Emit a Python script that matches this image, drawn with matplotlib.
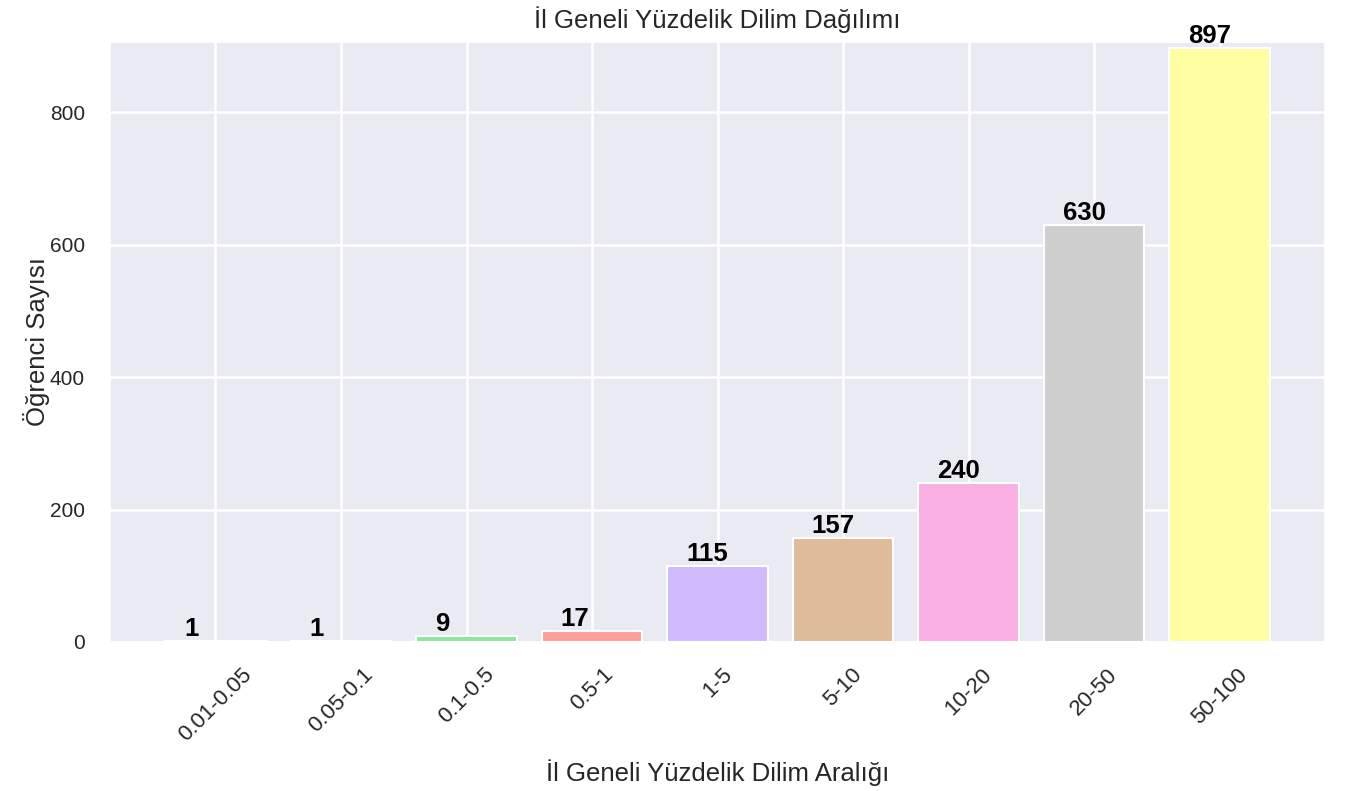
import matplotlib
matplotlib.use("Agg")
import matplotlib.pyplot as plt
import seaborn as sns

# Data
ranges = ["0.01-0.05", "0.05-0.1", "0.1-0.5", "0.5-1", "1-5",
          "5-10", "10-20", "20-50", "50-100"]
counts = [1, 1, 9, 17, 115, 157, 240, 630, 897]

sns.set_theme(style="darkgrid")
plt.rcParams['font.family'] = ['Liberation Sans', 'DejaVu Sans']

colors = sns.color_palette("pastel", len(ranges))

fig = plt.figure(figsize=(13.47, 7.91), dpi=100)
ax = fig.add_axes([0.0817, 0.1884, 0.902, 0.7586])

x = list(range(len(ranges)))
ax.bar(x, counts, color=colors, edgecolor='white', linewidth=1.5)

# Value labels over each bar
for i, v in enumerate(counts):
    ax.text(i - 0.25, v, str(v), fontsize=18.5, fontweight='bold',
            color='black', va='bottom')

ax.set_ylim(0, 906)
ax.set_xticks(x)
ax.set_xticklabels(ranges, rotation=45, ha='center', fontsize=16)
ax.tick_params(axis='y', labelsize=15, pad=12)
ax.tick_params(axis='x', pad=10)
ax.grid(True, color='white', linewidth=1.8)
ax.set_title("İl Geneli Yüzdelik Dilim Dağılımı", fontsize=18.5, pad=10)
ax.set_xlabel("İl Geneli Yüzdelik Dilim Aralığı", fontsize=18.5, labelpad=10)
ax.set_ylabel("Öğrenci Sayısı", fontsize=18.5, labelpad=0)

fig.savefig("out.png", dpi=100)
